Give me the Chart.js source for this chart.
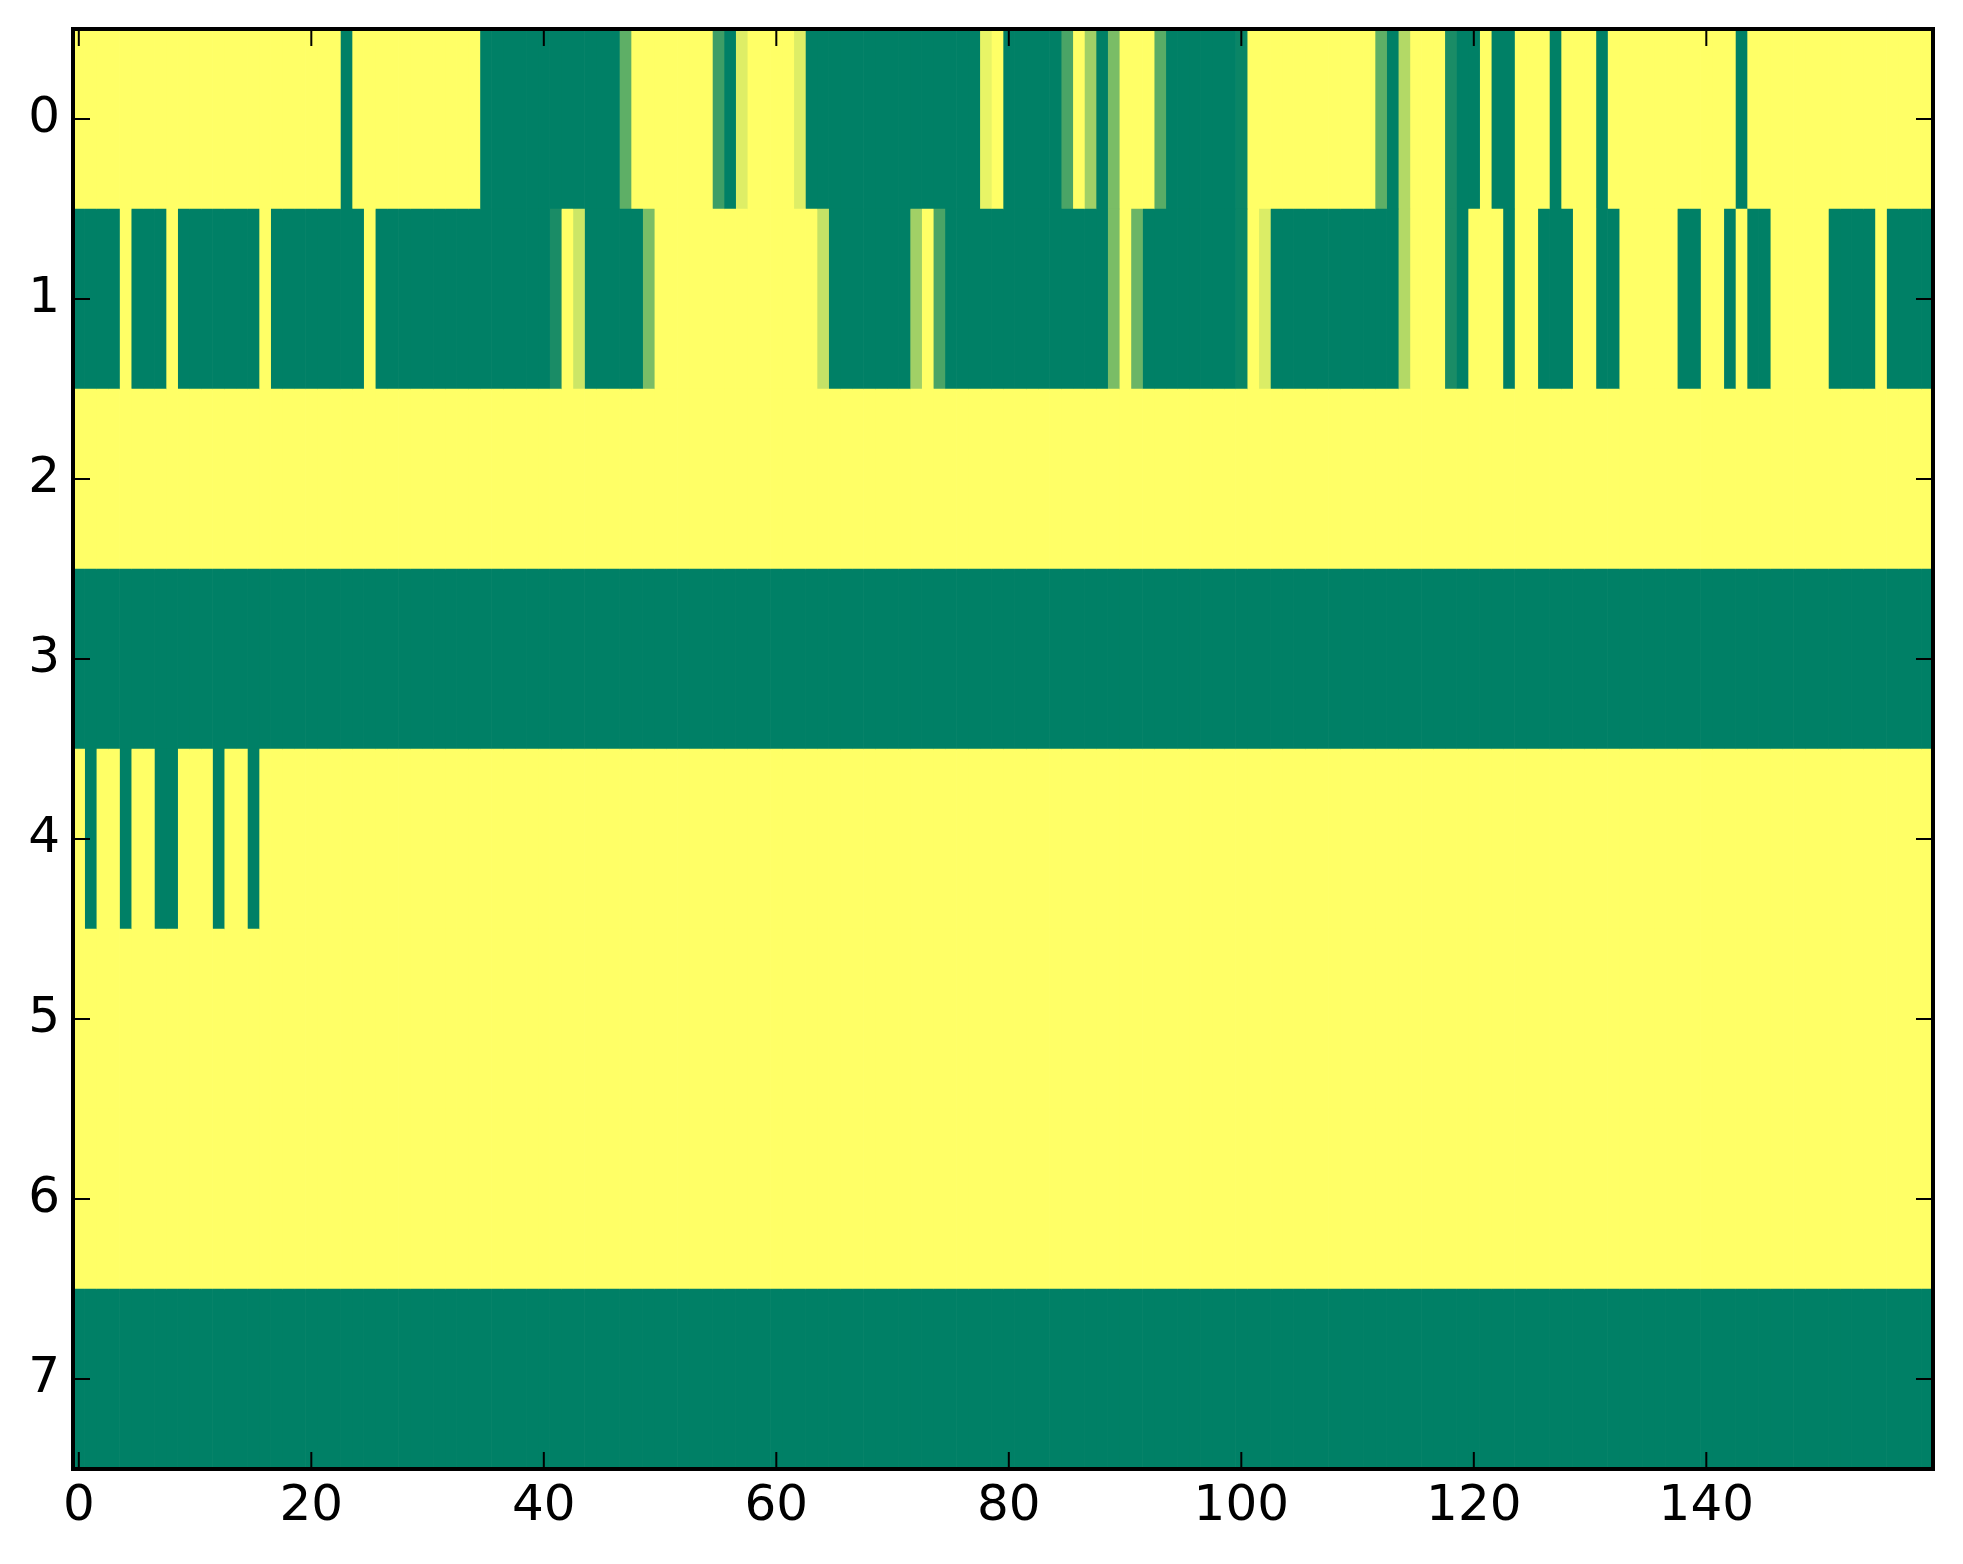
<!DOCTYPE html>
<html>
<head>
<meta charset="utf-8">
<script src="https://cdn.jsdelivr.net/npm/chart.js@4.4.6/dist/chart.umd.js"></script>
<style>
html, body { margin: 0; padding: 0; background: #fff; }
</style>
</head>
<body>
<canvas id="heat" width="1963" height="1564"></canvas>
<script>
// rows of the image (top to bottom) and the x tick marks
const rowLabels = ['0', '1', '2', '3', '4', '5', '6', '7'];
const xTicks = [0, 20, 40, 60, 80, 100, 120, 140];

// cell values, 160 columns per row, 0 = green .. 1 = yellow
const row0 = [
  1,1,1,1,1,1,1,1,1,1,1,1,1,1,1,1,1,1,1,1,
  1,1,1,0,1,1,1,1,1,1,1,1,1,1,1,0,0,0,0,0,
  0,0,0,0,0,0,0,0.37,1,1,1,1,1,1,1,0.24,0,0.87,1,1,
  1,1,0.87,0,0,0,0,0,0,0,0,0,0,0,0,0,0,0,0.91,1,
  0,0,0,0,0,0.29,1,0.63,0,0.48,1,1,1,0.35,0,0,0,0,0,0,
  0.04,1,1,1,1,1,1,1,1,1,1,1,0.37,0,0.7,1,1,1,0.1,0,
  0,1,0,0,1,1,1,0,1,1,1,0,1,1,1,1,1,1,1,1,
  1,1,1,0,1,1,1,1,1,1,1,1,1,1,1,1,1,1,1,1
];
const row1 = [
  0,0,0,0,1,0,0,0,1,0,0,0,0,0,0,0,1,0,0,0,
  0,0,0,0,0,1,0,0,0,0,0,0,0,0,0,0,0,0,0,0,
  0,0.1,1,0.8,0,0,0,0,0,0.48,1,1,1,1,1,1,1,1,1,1,
  1,1,1,1,0.77,0,0,0,0,0,0,0,0.63,1,0.29,0,0,0,0,0,
  0,0,0,0,0,0,0,0,0,0.48,1,0.42,0,0,0,0,0,0,0,0,
  0.04,1,0.86,0,0,0,0,0,0,0,0,0,0,0,0.7,1,1,1,0.1,0,
  1,1,1,0,1,1,0,0,0,1,1,0,0,1,1,1,1,1,0,0,
  1,1,0,1,0,0,1,1,1,1,1,0,0,0,0,1,0,0,0,0
];
const row2 = [
  1,1,1,1,1,1,1,1,1,1,1,1,1,1,1,1,1,1,1,1,
  1,1,1,1,1,1,1,1,1,1,1,1,1,1,1,1,1,1,1,1,
  1,1,1,1,1,1,1,1,1,1,1,1,1,1,1,1,1,1,1,1,
  1,1,1,1,1,1,1,1,1,1,1,1,1,1,1,1,1,1,1,1,
  1,1,1,1,1,1,1,1,1,1,1,1,1,1,1,1,1,1,1,1,
  1,1,1,1,1,1,1,1,1,1,1,1,1,1,1,1,1,1,1,1,
  1,1,1,1,1,1,1,1,1,1,1,1,1,1,1,1,1,1,1,1,
  1,1,1,1,1,1,1,1,1,1,1,1,1,1,1,1,1,1,1,1
];
const row3 = [
  0,0,0,0,0,0,0,0,0,0,0,0,0,0,0,0,0,0,0,0,
  0,0,0,0,0,0,0,0,0,0,0,0,0,0,0,0,0,0,0,0,
  0,0,0,0,0,0,0,0,0,0,0,0,0,0,0,0,0,0,0,0,
  0,0,0,0,0,0,0,0,0,0,0,0,0,0,0,0,0,0,0,0,
  0,0,0,0,0,0,0,0,0,0,0,0,0,0,0,0,0,0,0,0,
  0,0,0,0,0,0,0,0,0,0,0,0,0,0,0,0,0,0,0,0,
  0,0,0,0,0,0,0,0,0,0,0,0,0,0,0,0,0,0,0,0,
  0,0,0,0,0,0,0,0,0,0,0,0,0,0,0,0,0,0,0,0
];
const row4 = [
  1,0,1,1,0,1,1,0,0,1,1,1,0,1,1,0,1,1,1,1,
  1,1,1,1,1,1,1,1,1,1,1,1,1,1,1,1,1,1,1,1,
  1,1,1,1,1,1,1,1,1,1,1,1,1,1,1,1,1,1,1,1,
  1,1,1,1,1,1,1,1,1,1,1,1,1,1,1,1,1,1,1,1,
  1,1,1,1,1,1,1,1,1,1,1,1,1,1,1,1,1,1,1,1,
  1,1,1,1,1,1,1,1,1,1,1,1,1,1,1,1,1,1,1,1,
  1,1,1,1,1,1,1,1,1,1,1,1,1,1,1,1,1,1,1,1,
  1,1,1,1,1,1,1,1,1,1,1,1,1,1,1,1,1,1,1,1
];
const row5 = [
  1,1,1,1,1,1,1,1,1,1,1,1,1,1,1,1,1,1,1,1,
  1,1,1,1,1,1,1,1,1,1,1,1,1,1,1,1,1,1,1,1,
  1,1,1,1,1,1,1,1,1,1,1,1,1,1,1,1,1,1,1,1,
  1,1,1,1,1,1,1,1,1,1,1,1,1,1,1,1,1,1,1,1,
  1,1,1,1,1,1,1,1,1,1,1,1,1,1,1,1,1,1,1,1,
  1,1,1,1,1,1,1,1,1,1,1,1,1,1,1,1,1,1,1,1,
  1,1,1,1,1,1,1,1,1,1,1,1,1,1,1,1,1,1,1,1,
  1,1,1,1,1,1,1,1,1,1,1,1,1,1,1,1,1,1,1,1
];
const row6 = [
  1,1,1,1,1,1,1,1,1,1,1,1,1,1,1,1,1,1,1,1,
  1,1,1,1,1,1,1,1,1,1,1,1,1,1,1,1,1,1,1,1,
  1,1,1,1,1,1,1,1,1,1,1,1,1,1,1,1,1,1,1,1,
  1,1,1,1,1,1,1,1,1,1,1,1,1,1,1,1,1,1,1,1,
  1,1,1,1,1,1,1,1,1,1,1,1,1,1,1,1,1,1,1,1,
  1,1,1,1,1,1,1,1,1,1,1,1,1,1,1,1,1,1,1,1,
  1,1,1,1,1,1,1,1,1,1,1,1,1,1,1,1,1,1,1,1,
  1,1,1,1,1,1,1,1,1,1,1,1,1,1,1,1,1,1,1,1
];
const row7 = [
  0,0,0,0,0,0,0,0,0,0,0,0,0,0,0,0,0,0,0,0,
  0,0,0,0,0,0,0,0,0,0,0,0,0,0,0,0,0,0,0,0,
  0,0,0,0,0,0,0,0,0,0,0,0,0,0,0,0,0,0,0,0,
  0,0,0,0,0,0,0,0,0,0,0,0,0,0,0,0,0,0,0,0,
  0,0,0,0,0,0,0,0,0,0,0,0,0,0,0,0,0,0,0,0,
  0,0,0,0,0,0,0,0,0,0,0,0,0,0,0,0,0,0,0,0,
  0,0,0,0,0,0,0,0,0,0,0,0,0,0,0,0,0,0,0,0,
  0,0,0,0,0,0,0,0,0,0,0,0,0,0,0,0,0,0,0,0
];

const rows = [row0, row1, row2, row3, row4, row5, row6, row7];

// matplotlib "summer" colormap
function summer(v) {
    return 'rgb(' + Math.round(255 * v) + ',' + Math.round(255 * (0.5 + 0.5 * v)) + ',102)';
}

// one dataset per column, one floating bar per row
const datasets = row0.map((_, c) => ({
    data: rows.map(() => [c - 0.5, c + 0.5]),
    backgroundColor: rows.map((r) => summer(r[c])),
}));

// frame and inward ticks on all four sides, like the classic style
const frameTicks = {
    id: 'frameTicks',
    afterDraw(chart) {
        const ctx = chart.ctx;
        const a = chart.chartArea;
        const xs = chart.scales.x, ys = chart.scales.y;
        const len = 17;
        ctx.save();
        ctx.strokeStyle = '#000';
        ctx.lineWidth = 2;
        ctx.beginPath();
        xTicks.forEach((v) => {
            const px = xs.getPixelForValue(v);
            ctx.moveTo(px, a.bottom); ctx.lineTo(px, a.bottom - len);
            ctx.moveTo(px, a.top); ctx.lineTo(px, a.top + len);
        });
        rowLabels.forEach((_, i) => {
            const py = ys.getPixelForValue(i);
            ctx.moveTo(a.left, py); ctx.lineTo(a.left + len, py);
            ctx.moveTo(a.right, py); ctx.lineTo(a.right - len, py);
        });
        ctx.stroke();
        ctx.lineWidth = 4;
        ctx.strokeRect(a.left, a.top, a.right - a.left, a.bottom - a.top);
        ctx.restore();
    }
};

const ctx = document.getElementById('heat').getContext('2d');
const heat = new Chart(ctx, {
    type: 'bar',
    data: {
        labels: rowLabels,
        datasets: datasets
    },
    plugins: [frameTicks],
    options: {
        indexAxis: 'y',
        responsive: false,
        animation: false,
        events: [],
        layout: { padding: { top: 29, right: 30, left: 0, bottom: 0 } },
        datasets: {
            bar: {
                grouped: false,
                barPercentage: 1,
                categoryPercentage: 1,
                borderWidth: 0
            }
        },
        scales: {
            x: {
                type: 'linear',
                position: 'bottom',
                min: -0.5,
                max: 159.5,
                afterBuildTicks: (scale) => { scale.ticks = xTicks.map((v) => ({ value: v })); },
                afterFit: (scale) => {
                    scale.height = 95;
                    scale.paddingLeft = 0;
                    scale.paddingRight = 0;
                },
                grid: { display: false, drawTicks: false },
                border: { display: false },
                ticks: {
                    color: '#000',
                    padding: 8,
                    maxRotation: 0,
                    autoSkip: false,
                    font: { family: 'DejaVu Sans', size: 50 }
                }
            },
            y: {
                type: 'category',
                offset: true,
                afterFit: (scale) => {
                    scale.width = 73;
                    scale.paddingTop = 0;
                    scale.paddingBottom = 0;
                },
                grid: { display: false, drawTicks: false },
                border: { display: false },
                ticks: {
                    color: '#000',
                    padding: 13,
                    font: { family: 'DejaVu Sans', size: 50 }
                }
            }
        },
        plugins: {
            legend: { display: false },
            tooltip: { enabled: false },
            title: { display: false }
        }
    }
});
</script>
</body>
</html>
